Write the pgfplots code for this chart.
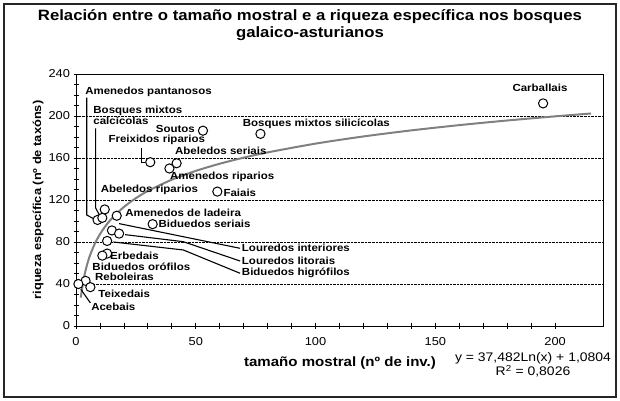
\documentclass[border=0pt]{standalone}
\usepackage{fontspec}
\setmainfont{Liberation Sans}[FakeStretch=1.12]
\usepackage{pgfplots}
\pgfplotsset{compat=1.18}

\pgfplotstableread{
x y
195 212
53 186
77 183
31 156
42 155
39 150
59 128
12 111
9 101
11 103
17 105
32 97
15 91
18 88
13 81
13 69
11 67
4 43
1 40
6 37
}\pts

\pgfplotstableread{
x y
2 27.06
3 42.26
4 53.04
5 61.40
6 68.24
8 79.02
10 87.39
12 94.22
15 102.59
20 113.37
25 121.73
30 128.56
40 139.35
50 147.71
60 154.54
70 160.32
80 165.33
100 173.69
120 180.53
140 186.30
160 191.31
180 195.72
200 199.67
215 202.37
}\trend

\begin{document}
\begin{tikzpicture}
\path[use as bounding box] (0bp,0bp) rectangle (620bp,401bp);
\draw[line width=1.6bp, black!85] (4bp,4bp) rectangle (616bp,397bp);
\node[font=\bfseries\fontsize{15}{16.5}\selectfont, align=center, inner sep=0] at (310bp,376bp)
  {Relación entre o tamaño mostral e a riqueza específica nos bosques\\galaico-asturianos};
\begin{axis}[
  at={(76bp,75bp)}, anchor=south west,
  scale only axis, width=527bp, height=252bp,
  xmin=0, xmax=220, ymin=0, ymax=240,
  xtick={0,50,...,200}, ytick={0,40,...,240},
  minor x tick num=4, minor y tick num=3,
  xtick pos=bottom, ytick pos=left,
  tick align=center,
  major tick length=5bp, minor tick length=5bp,
  tick style={black, line width=0.8bp},
  axis line style={black, line width=0.9bp},
  ymajorgrids,
  major grid style={densely dotted, black, line width=0.9bp},
  ticklabel style={font=\fontsize{11.5}{13}\selectfont},
  xticklabel style={yshift=-5bp},
  /pgf/number format/assume math mode=true,
  clip=false,
]
\addplot[no marks, black!50, line width=2bp, smooth] table[x=x,y=y] {\trend};
\addplot[only marks, mark=*, mark size=4.6bp, mark options={fill=white, draw=black, line width=1bp}] table[x=x,y=y] {\pts};

\begin{scope}[black, line width=1.1bp]
\draw (axis cs:4.5,217.4) -- (axis cs:4.5,105.7) -- (axis cs:7.5,102);
\draw (axis cs:8.2,188.3) -- (axis cs:8.2,112.4) -- (axis cs:9.8,105.5);
\draw (axis cs:27.4,169.2) -- (axis cs:27.4,155.5) -- (axis cs:28.8,155.5);
\draw (axis cs:18,97.5) -- (axis cs:68.5,74);
\draw (axis cs:20.5,87) -- (axis cs:44.8,80.3) -- (axis cs:68.5,61.9);
\draw (axis cs:15.6,80) -- (axis cs:44.8,72.4) -- (axis cs:68.5,50.2);
\draw (axis cs:2,35) -- (axis cs:6,22);
\end{scope}

\begin{scope}[every node/.style={font=\bfseries\fontsize{10.3}{11.5}\selectfont, inner sep=0, anchor=west}]
\node at (axis cs:3.8,223) {Amenedos pantanosos};
\node[align=left] at (axis cs:7.2,200.5) {Bosques mixtos\\calcícolas};
\node[anchor=east] at (axis cs:49.7,187.3) {Soutos};
\node at (axis cs:13.5,177.1) {Freixidos riparios};
\node at (axis cs:41.3,167) {Abeledos seriais};
\node at (axis cs:39.2,141.6) {Amenedos riparios};
\node at (axis cs:61.5,126.4) {Faiais};
\node at (axis cs:69.6,193) {Bosques mixtos silicícolas};
\node[anchor=center] at (axis cs:193.7,226.4) {Carballais};
\node at (axis cs:10.3,129.5) {Abeledos riparios};
\node at (axis cs:20.5,107.9) {Amenedos de ladeira};
\node at (axis cs:34.4,97.1) {Biduedos seriais};
\node at (axis cs:69.2,74) {Louredos interiores};
\node at (axis cs:69.2,61.9) {Louredos litorais};
\node at (axis cs:69.2,50.2) {Biduedos higrófilos};
\node at (axis cs:14.2,66.7) {Erbedais};
\node at (axis cs:6.8,56.5) {Biduedos orófilos};
\node at (axis cs:7.9,46.4) {Reboleiras};
\node at (axis cs:9.3,30.5) {Teixedais};
\node at (axis cs:6.3,18.4) {Acebais};
\end{scope}
\end{axis}
\node[font=\bfseries\fontsize{13.5}{15}\selectfont, inner sep=0] at (340bp,38bp)
  {tamaño mostral (nº de inv.)};
\node[font=\bfseries\fontsize{11.5}{13}\selectfont, inner sep=0, rotate=90] at (38bp,201bp)
  {riqueza específica (nº de taxóns)};
\node[font=\fontsize{12.5}{14}\selectfont, align=center, inner sep=0] at (533bp,36bp)
  {y = 37,482Ln(x) + 1,0804\\R\textsuperscript{2} = 0,8026};
\end{tikzpicture}
\end{document}
